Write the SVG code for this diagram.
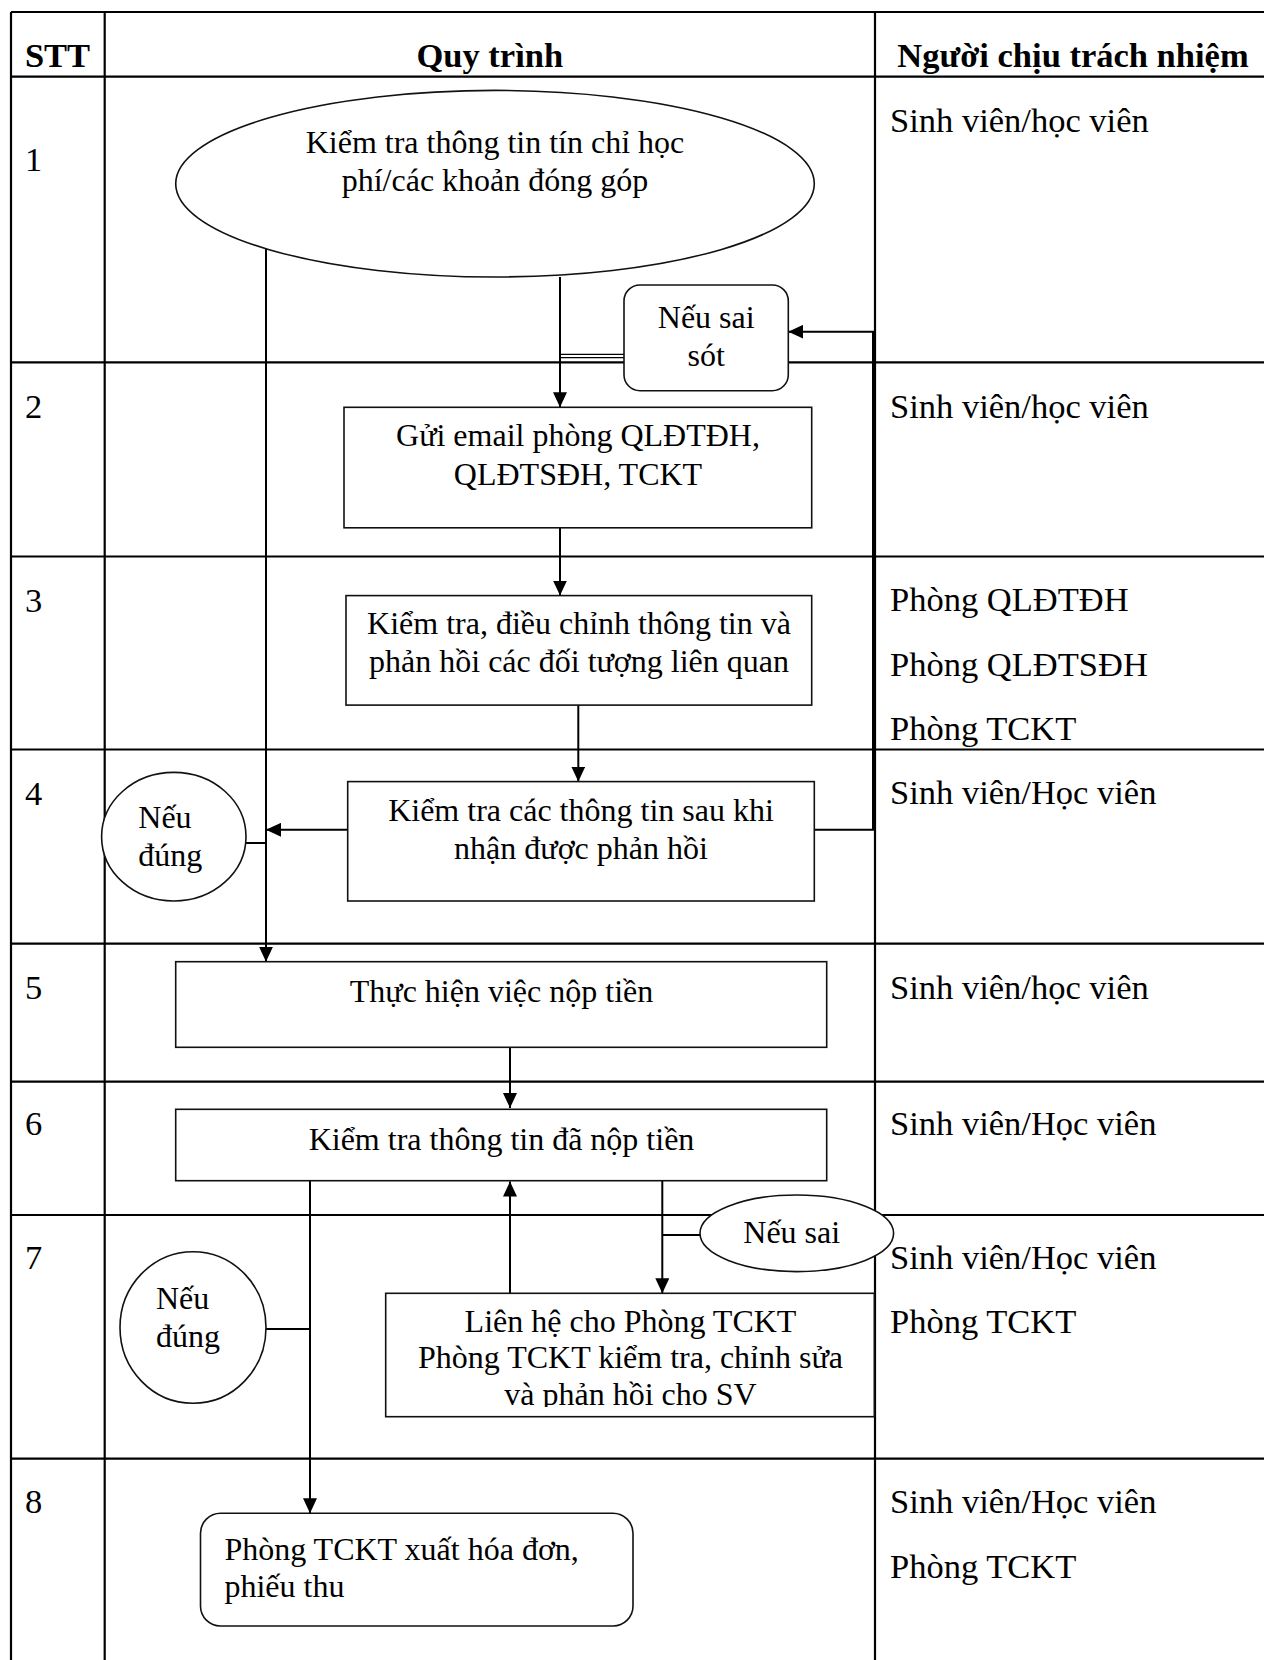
<svg xmlns="http://www.w3.org/2000/svg" width="1264" height="1660" viewBox="0 0 1264 1660">
<style>
.grid{stroke:#000;stroke-width:2.2;fill:none}
.conn{stroke:#000;stroke-width:2;fill:none}
.box{stroke:#111;stroke-width:1.6;fill:#fff}
.t{font-family:"Liberation Serif","Times New Roman",serif;font-size:34.5px;fill:#000}
.n{font-family:"Liberation Serif","Times New Roman",serif;font-size:32px;fill:#000}
.h{font-family:"Liberation Serif","Times New Roman",serif;font-size:34.5px;font-weight:bold;fill:#000}
.c{text-anchor:middle}
</style>
<defs>
<marker id="arr" markerUnits="userSpaceOnUse" markerWidth="16" markerHeight="14" refX="15" refY="7" orient="auto">
<path d="M0,0 L15,7 L0,14 z" fill="#000"/>
</marker>
<clipPath id="clip7"><rect x="386" y="1293" width="489" height="114"/></clipPath>
</defs>
<rect width="1264" height="1660" fill="#fff"/>
<g id="table">
<line class="grid" x1="11" y1="12" x2="1264" y2="12"/>
<line class="grid" x1="11" y1="76.7" x2="1264" y2="76.7"/>
<line class="grid" x1="11" y1="362.3" x2="1264" y2="362.3"/>
<line class="grid" x1="11" y1="556.5" x2="1264" y2="556.5"/>
<line class="grid" x1="11" y1="749.5" x2="1264" y2="749.5"/>
<line class="grid" x1="11" y1="943.6" x2="1264" y2="943.6"/>
<line class="grid" x1="11" y1="1081.7" x2="1264" y2="1081.7"/>
<line class="grid" x1="11" y1="1215" x2="1264" y2="1215"/>
<line class="grid" x1="11" y1="1458.7" x2="1264" y2="1458.7"/>
<line class="grid" x1="11" y1="12" x2="11" y2="1660"/>
<line class="grid" x1="104.7" y1="12" x2="104.7" y2="1660"/>
<line class="grid" x1="875" y1="12" x2="875" y2="1660"/>
<text class="h c" x="57.5" y="66.7">STT</text>
<text class="h c" x="489.8" y="66.7">Quy trình</text>
<text class="h c" x="1073" y="66.7">Người chịu trách nhiệm</text>
<text class="t" x="25" y="170.7">1</text>
<text class="t" x="25" y="418">2</text>
<text class="t" x="25" y="611.8">3</text>
<text class="t" x="25" y="804.6">4</text>
<text class="t" x="25" y="998.5">5</text>
<text class="t" x="25" y="1135">6</text>
<text class="t" x="25" y="1268.5">7</text>
<text class="t" x="25" y="1513">8</text>
<text class="t" x="890" y="131.7">Sinh viên/học viên</text>
<text class="t" x="890" y="418">Sinh viên/học viên</text>
<text class="t" x="890" y="611">Phòng QLĐTĐH</text>
<text class="t" x="890" y="675.5">Phòng QLĐTSĐH</text>
<text class="t" x="890" y="739.6">Phòng TCKT</text>
<text class="t" x="890" y="804">Sinh viên/Học viên</text>
<text class="t" x="890" y="998.5">Sinh viên/học viên</text>
<text class="t" x="890" y="1135">Sinh viên/Học viên</text>
<text class="t" x="890" y="1268.5">Sinh viên/Học viên</text>
<text class="t" x="890" y="1332.7">Phòng TCKT</text>
<text class="t" x="890" y="1513">Sinh viên/Học viên</text>
<text class="t" x="890" y="1578">Phòng TCKT</text>
</g>
<g id="connectors">
<line class="conn" x1="560" y1="277" x2="560" y2="407.3" marker-end="url(#arr)"/>
<line class="conn" x1="266" y1="245.7" x2="266" y2="961.7" marker-end="url(#arr)"/>
<line stroke="#000" stroke-width="1.2" x1="561" y1="354.3" x2="624" y2="354.3"/>
<line stroke="#000" stroke-width="1.2" x1="561" y1="357.6" x2="624" y2="357.6"/>
<polyline class="conn" points="814.3,829.8 873,829.8 873,331.7 788.3,331.7" marker-end="url(#arr)"/>
<line class="conn" x1="560" y1="527.8" x2="560" y2="595.6" marker-end="url(#arr)"/>
<line class="conn" x1="578.3" y1="705.1" x2="578.3" y2="781.6" marker-end="url(#arr)"/>
<line class="conn" x1="347.7" y1="829.8" x2="266" y2="829.8" marker-end="url(#arr)"/>
<line class="conn" x1="246" y1="843" x2="266" y2="843"/>
<line class="conn" x1="510" y1="1047.3" x2="510" y2="1108" marker-end="url(#arr)"/>
<line class="conn" x1="310" y1="1180.7" x2="310" y2="1513.3" marker-end="url(#arr)"/>
<line class="conn" x1="266" y1="1329" x2="310" y2="1329"/>
<line class="conn" x1="510" y1="1293.3" x2="510" y2="1181.5" marker-end="url(#arr)"/>
<line class="conn" x1="662.3" y1="1180.7" x2="662.3" y2="1293.3" marker-end="url(#arr)"/>
<line class="conn" x1="700" y1="1235" x2="662.3" y2="1235"/>
</g>
<g id="node1">
<ellipse class="box" cx="495" cy="183.7" rx="319.3" ry="93.3"/>
<text class="n c" x="495" y="153.3">Kiểm tra thông tin tín chỉ học</text>
<text class="n c" x="495" y="190.7">phí/các khoản đóng góp</text>
</g>
<g id="node-neu-sai-sot">
<rect class="box" x="624" y="285" width="164.3" height="105.7" rx="16" ry="16"/>
<text class="n c" x="706.2" y="328.3">Nếu sai</text>
<text class="n c" x="706.2" y="365.7">sót</text>
</g>
<g id="node2">
<rect class="box" x="344" y="407.3" width="467.7" height="120.5"/>
<text class="n c" x="578" y="446">Gửi email phòng QLĐTĐH,</text>
<text class="n c" x="578" y="484.7">QLĐTSĐH, TCKT</text>
</g>
<g id="node3">
<rect class="box" x="346" y="595.6" width="465.7" height="109.5"/>
<text class="n c" x="579" y="634.2">Kiểm tra, điều chỉnh thông tin và</text>
<text class="n c" x="579" y="672.4">phản hồi các đối tượng liên quan</text>
</g>
<g id="node4">
<rect class="box" x="347.7" y="781.6" width="466.6" height="119.4"/>
<text class="n c" x="581" y="820.5">Kiểm tra các thông tin sau khi</text>
<text class="n c" x="581" y="859">nhận được phản hồi</text>
</g>
<g id="node-neu-dung-4">
<ellipse class="box" cx="173.8" cy="836.7" rx="72.2" ry="64.3"/>
<text class="n" x="138.3" y="828">Nếu</text>
<text class="n" x="138.3" y="866">đúng</text>
</g>
<g id="node5">
<rect class="box" x="175.7" y="961.7" width="651" height="85.6"/>
<text class="n c" x="501.5" y="1001.7">Thực hiện việc nộp tiền</text>
</g>
<g id="node6">
<rect class="box" x="175.7" y="1109.3" width="651" height="71.4"/>
<text class="n c" x="501.5" y="1150">Kiểm tra thông tin đã nộp tiền</text>
</g>
<g id="node-neu-sai">
<ellipse class="box" cx="796.8" cy="1233.3" rx="96.8" ry="38.3"/>
<text class="n c" x="791.7" y="1243.3">Nếu sai</text>
</g>
<g id="node-neu-dung-7">
<ellipse class="box" cx="193" cy="1327.5" rx="73" ry="75.8"/>
<text class="n" x="156" y="1309.3">Nếu</text>
<text class="n" x="156" y="1347.3">đúng</text>
</g>
<g id="node7">
<rect class="box" x="385.7" y="1293.3" width="488.6" height="123.4"/>
<g clip-path="url(#clip7)">
<text class="n c" x="630.5" y="1331.7">Liên hệ cho Phòng TCKT</text>
<text class="n c" x="630.5" y="1368.3">Phòng TCKT kiểm tra, chỉnh sửa</text>
<text class="n c" x="630.5" y="1405">và phản hồi cho SV</text>
</g>
</g>
<g id="node8">
<rect class="box" x="200.5" y="1513.3" width="432.5" height="112.7" rx="20" ry="20"/>
<text class="n" x="224.4" y="1560">Phòng TCKT xuất hóa đơn,</text>
<text class="n" x="224.4" y="1597">phiếu thu</text>
</g>
</svg>
